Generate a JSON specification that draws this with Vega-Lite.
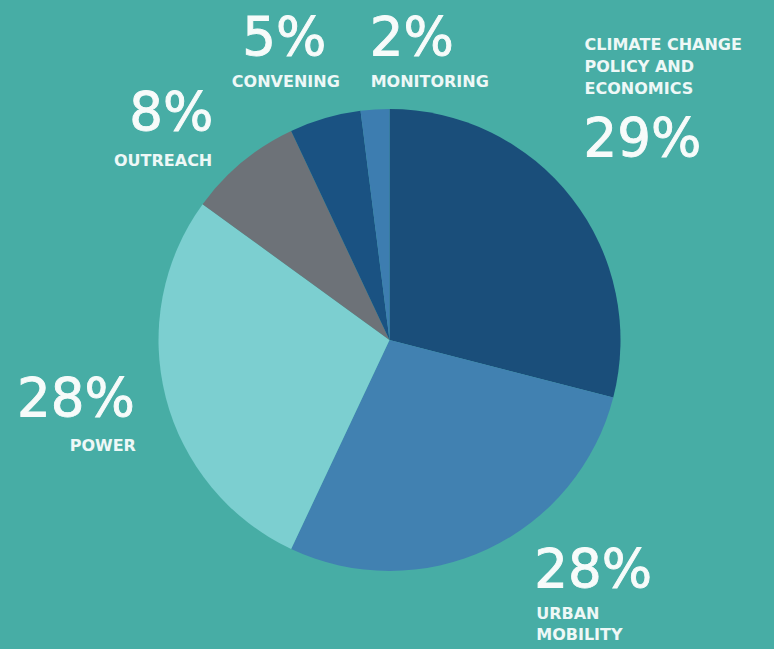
{
  "$schema": "https://vega.github.io/schema/vega-lite/v6.json",
  "width": 769,
  "height": 620,
  "autosize": {"type": "none"},
  "padding": {"left": 5, "top": 30, "right": 0, "bottom": 0},
  "background": "#47ada5",
  "config": {
    "view": {"stroke": null},
    "text": {"font": "DejaVu Sans", "fill": "#f7fbfa", "radius": 300}
  },
  "data": {
    "values": [
      {"rank": 1, "area": "Climate Change Policy and Economics", "share": 29, "pct": "29%", "name": "CLIMATE CHANGE\nPOLICY AND\nECONOMICS"},
      {"rank": 2, "area": "Urban Mobility", "share": 28, "pct": "28%", "name": "URBAN\nMOBILITY"},
      {"rank": 3, "area": "Power", "share": 28, "pct": "28%", "name": "POWER"},
      {"rank": 4, "area": "Outreach", "share": 8, "pct": "8%", "name": "OUTREACH"},
      {"rank": 5, "area": "Convening", "share": 5, "pct": "5%", "name": "CONVENING"},
      {"rank": 6, "area": "Monitoring", "share": 2, "pct": "2%", "name": "MONITORING"}
    ]
  },
  "encoding": {
    "theta": {"field": "share", "type": "quantitative", "stack": true},
    "order": {"field": "rank", "type": "quantitative"}
  },
  "layer": [
    {
      "mark": {"type": "arc", "outerRadius": 231},
      "encoding": {
        "color": {
          "field": "area", "type": "nominal", "legend": null,
          "scale": {
            "domain": ["Climate Change Policy and Economics", "Urban Mobility", "Power", "Outreach", "Convening", "Monitoring"],
            "range": ["#1a4e7a", "#4181b1", "#7ccfd0", "#6d7278", "#1a5282", "#3d7db0"]
          }
        }
      }
    },
    {
      "mark": {"type": "text", "radius": 300, "align": "left", "baseline": "middle", "dx": -43, "dy": -16, "fontSize": 53, "stroke": "#f7fbfa", "strokeWidth": 0.9},
      "encoding": {"text": {"condition": {"test": "datum.rank === 1", "field": "pct"}, "value": ""}}
    },
    {
      "mark": {"type": "text", "radius": 300, "align": "left", "baseline": "middle", "dx": 17, "dy": -40, "fontSize": 53, "stroke": "#f7fbfa", "strokeWidth": 0.9},
      "encoding": {"text": {"condition": {"test": "datum.rank === 2", "field": "pct"}, "value": ""}}
    },
    {
      "mark": {"type": "text", "radius": 300, "align": "right", "baseline": "middle", "dx": 36, "dy": -15, "fontSize": 53, "stroke": "#f7fbfa", "strokeWidth": 0.9},
      "encoding": {"text": {"condition": {"test": "datum.rank === 3", "field": "pct"}, "value": ""}}
    },
    {
      "mark": {"type": "text", "radius": 300, "align": "right", "baseline": "middle", "dx": 15, "dy": 5, "fontSize": 53, "stroke": "#f7fbfa", "strokeWidth": 0.9},
      "encoding": {"text": {"condition": {"test": "datum.rank === 4", "field": "pct"}, "value": ""}}
    },
    {
      "mark": {"type": "text", "radius": 300, "align": "center", "baseline": "middle", "dx": -21.5, "dy": -13, "fontSize": 53, "stroke": "#f7fbfa", "strokeWidth": 0.9},
      "encoding": {"text": {"condition": {"test": "datum.rank === 5", "field": "pct"}, "value": ""}}
    },
    {
      "mark": {"type": "text", "radius": 300, "align": "left", "baseline": "middle", "dx": -1, "dy": -2, "fontSize": 53, "stroke": "#f7fbfa", "strokeWidth": 0.9},
      "encoding": {"text": {"condition": {"test": "datum.rank === 6", "field": "pct"}, "value": ""}}
    },
    {
      "mark": {"type": "text", "radius": 300, "align": "left", "baseline": "top", "lineBreak": "\n", "lineHeight": 22, "dx": -42, "dy": -119, "fontSize": 16, "fontWeight": "bold", "fill": "#eef8f7"},
      "encoding": {"text": {"condition": {"test": "datum.rank === 1", "field": "name"}, "value": ""}}
    },
    {
      "mark": {"type": "text", "radius": 300, "align": "left", "baseline": "top", "lineBreak": "\n", "lineHeight": 21, "dx": 19, "dy": -5, "fontSize": 16, "fontWeight": "bold", "fill": "#eef8f7"},
      "encoding": {"text": {"condition": {"test": "datum.rank === 2", "field": "name"}, "value": ""}}
    },
    {
      "mark": {"type": "text", "radius": 300, "align": "right", "baseline": "top", "dx": 37, "dy": 23, "fontSize": 16, "fontWeight": "bold", "fill": "#eef8f7"},
      "encoding": {"text": {"condition": {"test": "datum.rank === 3", "field": "name"}, "value": ""}}
    },
    {
      "mark": {"type": "text", "radius": 300, "align": "right", "baseline": "top", "dx": 14, "dy": 44, "fontSize": 16, "fontWeight": "bold", "fill": "#eef8f7"},
      "encoding": {"text": {"condition": {"test": "datum.rank === 4", "field": "name"}, "value": ""}}
    },
    {
      "mark": {"type": "text", "radius": 300, "align": "center", "baseline": "top", "dx": -20, "dy": 22, "fontSize": 16, "fontWeight": "bold", "fill": "#eef8f7"},
      "encoding": {"text": {"condition": {"test": "datum.rank === 5", "field": "name"}, "value": ""}}
    },
    {
      "mark": {"type": "text", "radius": 300, "align": "left", "baseline": "top", "dx": 0, "dy": 33, "fontSize": 16, "fontWeight": "bold", "fill": "#eef8f7"},
      "encoding": {"text": {"condition": {"test": "datum.rank === 6", "field": "name"}, "value": ""}}
    }
  ]
}
